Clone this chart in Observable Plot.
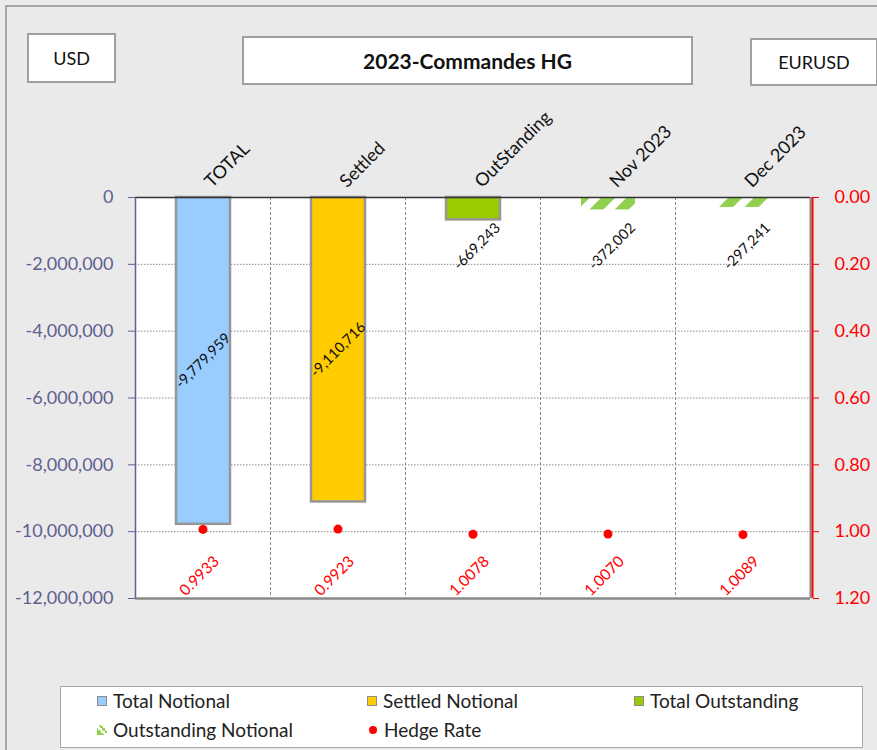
<!DOCTYPE html>
<html>
<head>
<meta charset="utf-8">
<script src="https://cdn.jsdelivr.net/npm/d3@7"></script>
<script src="https://cdn.jsdelivr.net/npm/@observablehq/plot@0.6"></script>
<style>
  html, body { margin: 0; padding: 0; background: #eaeaea; }
  #wrap { position: relative; width: 877px; height: 750px; overflow: hidden; font-family: Lato, "Open Sans", sans-serif; }
  .panel { position: absolute; left: 5px; top: 5px; width: 900px; height: 800px; border-left: 2px solid #a6a6a6; border-top: 2px solid #a6a6a6; }
  .box { position: absolute; background: #fff; border: 2px solid #a0a0a0; box-sizing: border-box; display: flex; align-items: center; justify-content: center; color: #111; font-size: 18px; }
  #usd { left: 27px; top: 33px; width: 89px; height: 50px; }
  #title { left: 242px; top: 36px; width: 451px; height: 49px; font-weight: bold; font-size: 21px; }
  #pair { left: 750px; top: 38px; width: 128px; height: 48px; }
  #chart { position: absolute; left: 0; top: 86px; }
  .legend { position: absolute; left: 60px; top: 686px; width: 803px; height: 62px; background: #fff; border: 1px solid #a6a6a6; box-sizing: border-box; }
  .item { position: absolute; display: flex; align-items: center; font-size: 19px; color: #222; line-height: 1; }
  .sw { width: 8px; height: 8px; border: 1px solid #8c8c8c; margin-right: 6px; }
  .swh { width: 10px; height: 10px; margin-right: 6px; background: linear-gradient(45deg, #92d050 0 35%, #fff 35% 55%, #92d050 55% 70%, #fff 70%); }
  .swd { width: 8px; height: 8px; border-radius: 50%; background: red; margin-right: 7px; margin-left: 2px; }
</style>
</head>
<body>
<div id="wrap">
  <div class="panel"></div>
  <div class="box" id="usd">USD</div>
  <div class="box" id="title">2023-Commandes HG</div>
  <div class="box" id="pair">EURUSD</div>
  <div id="chart"></div>
  <div class="legend" id="legend"></div>
</div>
<script>
// ---- data ----
const categories = ["TOTAL", "Settled", "OutStanding", "Nov 2023", "Dec 2023"];
const notional = [-9779959, -9110716, -669243, -372002, -297241];
const hedgeRate = [0.9933, 0.9923, 1.0078, 1.0070, 1.0089];
const series = ["Total Notional", "Settled Notional", "Total Outstanding", "Outstanding Notional", "Outstanding Notional"];
const leftTicks = [0, -2000000, -4000000, -6000000, -8000000, -10000000, -12000000];
const rightTicks = [0, 0.2, 0.4, 0.6, 0.8, 1.0, 1.2];
const legendItems = ["Total Notional", "Settled Notional", "Total Outstanding", "Outstanding Notional", "Hedge Rate"];

const seriesColor = {
  "Total Notional": "#99ccff",
  "Settled Notional": "#ffcc00",
  "Total Outstanding": "#99cc00",
  "Outstanding Notional": "url(#hatch)"
};

const data = categories.map((c, i) => ({cat: c, value: notional[i], rate: hedgeRate[i], series: series[i]}));
const rateToY = r => -r * 1e7; // secondary axis 0..1.2 mapped onto 0..-12,000,000

const W = 877, H = 594, mL = 135, mR = 67, mT = 111, mB = 82;
const bw = (W - mL - mR) / categories.length;
const fmt = v => Math.round(v).toLocaleString("en-US");
const slate = "#5f5f90";

const chart = Plot.plot({
  width: W, height: H,
  marginLeft: mL, marginRight: mR, marginTop: mT, marginBottom: mB,
  style: {background: "transparent", fontFamily: "Lato, 'Open Sans', sans-serif"},
  x: {domain: categories, padding: 0, axis: null},
  y: {domain: [-12000000, 0], axis: null},
  marks: [
    Plot.frame({fill: "white", stroke: null}),
    Plot.ruleY(leftTicks.slice(1, -1), {stroke: "#8a8a8a", strokeDasharray: "1.5,1.5", strokeWidth: 1}),
    Plot.ruleX(categories.slice(1), {x: d => d, dx: -bw / 2, stroke: "#8a8a8a", strokeDasharray: "3,2", strokeWidth: 1}),
    Plot.barY(data, {
      x: "cat", y: "value",
      fill: d => seriesColor[d.series],
      stroke: d => d.series === "Outstanding Notional" ? "none" : "#969696",
      strokeWidth: 2.5, insetLeft: 41, insetRight: 40
    }),
    Plot.ruleY([0], {stroke: "#333", strokeWidth: 1.5}),
    Plot.ruleY([-12000000], {stroke: "#888", strokeWidth: 2.5}),
    Plot.ruleX([categories[categories.length - 1]], {x: d => d, dx: bw / 2, stroke: "#888", strokeWidth: 2}),
    Plot.ruleX([categories[0]], {x: d => d, dx: -bw / 2, stroke: slate, strokeWidth: 1.5}),
    Plot.ruleX([categories[categories.length - 1]], {x: d => d, dx: bw / 2 + 2, stroke: "red", strokeWidth: 2}),
    Plot.axisY(leftTicks, {anchor: "left", tickFormat: fmt, color: slate, fontSize: 18, tickSize: 7, tickPadding: 15, label: null}),
    Plot.axisY(rightTicks.map(rateToY), {anchor: "right", tickFormat: d => (Math.abs(d) / 1e7).toFixed(2), color: "red", fontSize: 18, tickSize: 6, tickPadding: 16, dx: 2, label: null}),
    Plot.text(categories, {x: d => d, frameAnchor: "top", dy: -18, rotate: -45, textAnchor: "start", fontSize: 18, fill: "#111"}),
    Plot.text(data.filter(d => Math.abs(d.value) > 2000000), {x: "cat", y: d => d.value / 2, text: d => fmt(d.value), rotate: -45, fontSize: 14.5, fill: "#111"}),
    Plot.text(data.filter(d => Math.abs(d.value) <= 2000000), {x: "cat", frameAnchor: "top", dy: 45, text: d => fmt(d.value), rotate: -45, fontSize: 14.5, fill: "#111"}),
    Plot.dot(data, {x: "cat", y: d => rateToY(d.rate), r: 4.5, fill: "red", stroke: "none"}),
    Plot.text(data, {x: "cat", frameAnchor: "bottom", dy: -19, text: d => d.rate.toFixed(4), rotate: -45, fontSize: 15.5, fill: "red"})
  ]
});

d3.select(chart).insert("defs", ":first-child").html(
  '<pattern id="hatch" patternUnits="userSpaceOnUse" width="18" height="18" patternTransform="rotate(45)">' +
  '<rect width="18" height="18" fill="white"/><rect width="10" height="18" fill="#92d050"/></pattern>'
);
document.getElementById("chart").appendChild(chart);

// ---- legend ----
const legendPos = [[36, 4], [306, 4], [573, 4], [36, 33], [306, 33]];
const legendSw = ["sw", "sw", "sw", "swh", "swd"];
const legendFill = ["#99ccff", "#ffcc00", "#99cc00", null, null];
const leg = document.getElementById("legend");
legendItems.forEach((name, i) => {
  const it = document.createElement("div");
  it.className = "item";
  it.style.left = legendPos[i][0] + "px";
  it.style.top = legendPos[i][1] + "px";
  const sw = document.createElement("span");
  sw.className = legendSw[i];
  if (legendFill[i]) sw.style.background = legendFill[i];
  it.appendChild(sw);
  const t = document.createElement("span");
  t.textContent = name;
  it.appendChild(t);
  leg.appendChild(it);
});
</script>
</body>
</html>
